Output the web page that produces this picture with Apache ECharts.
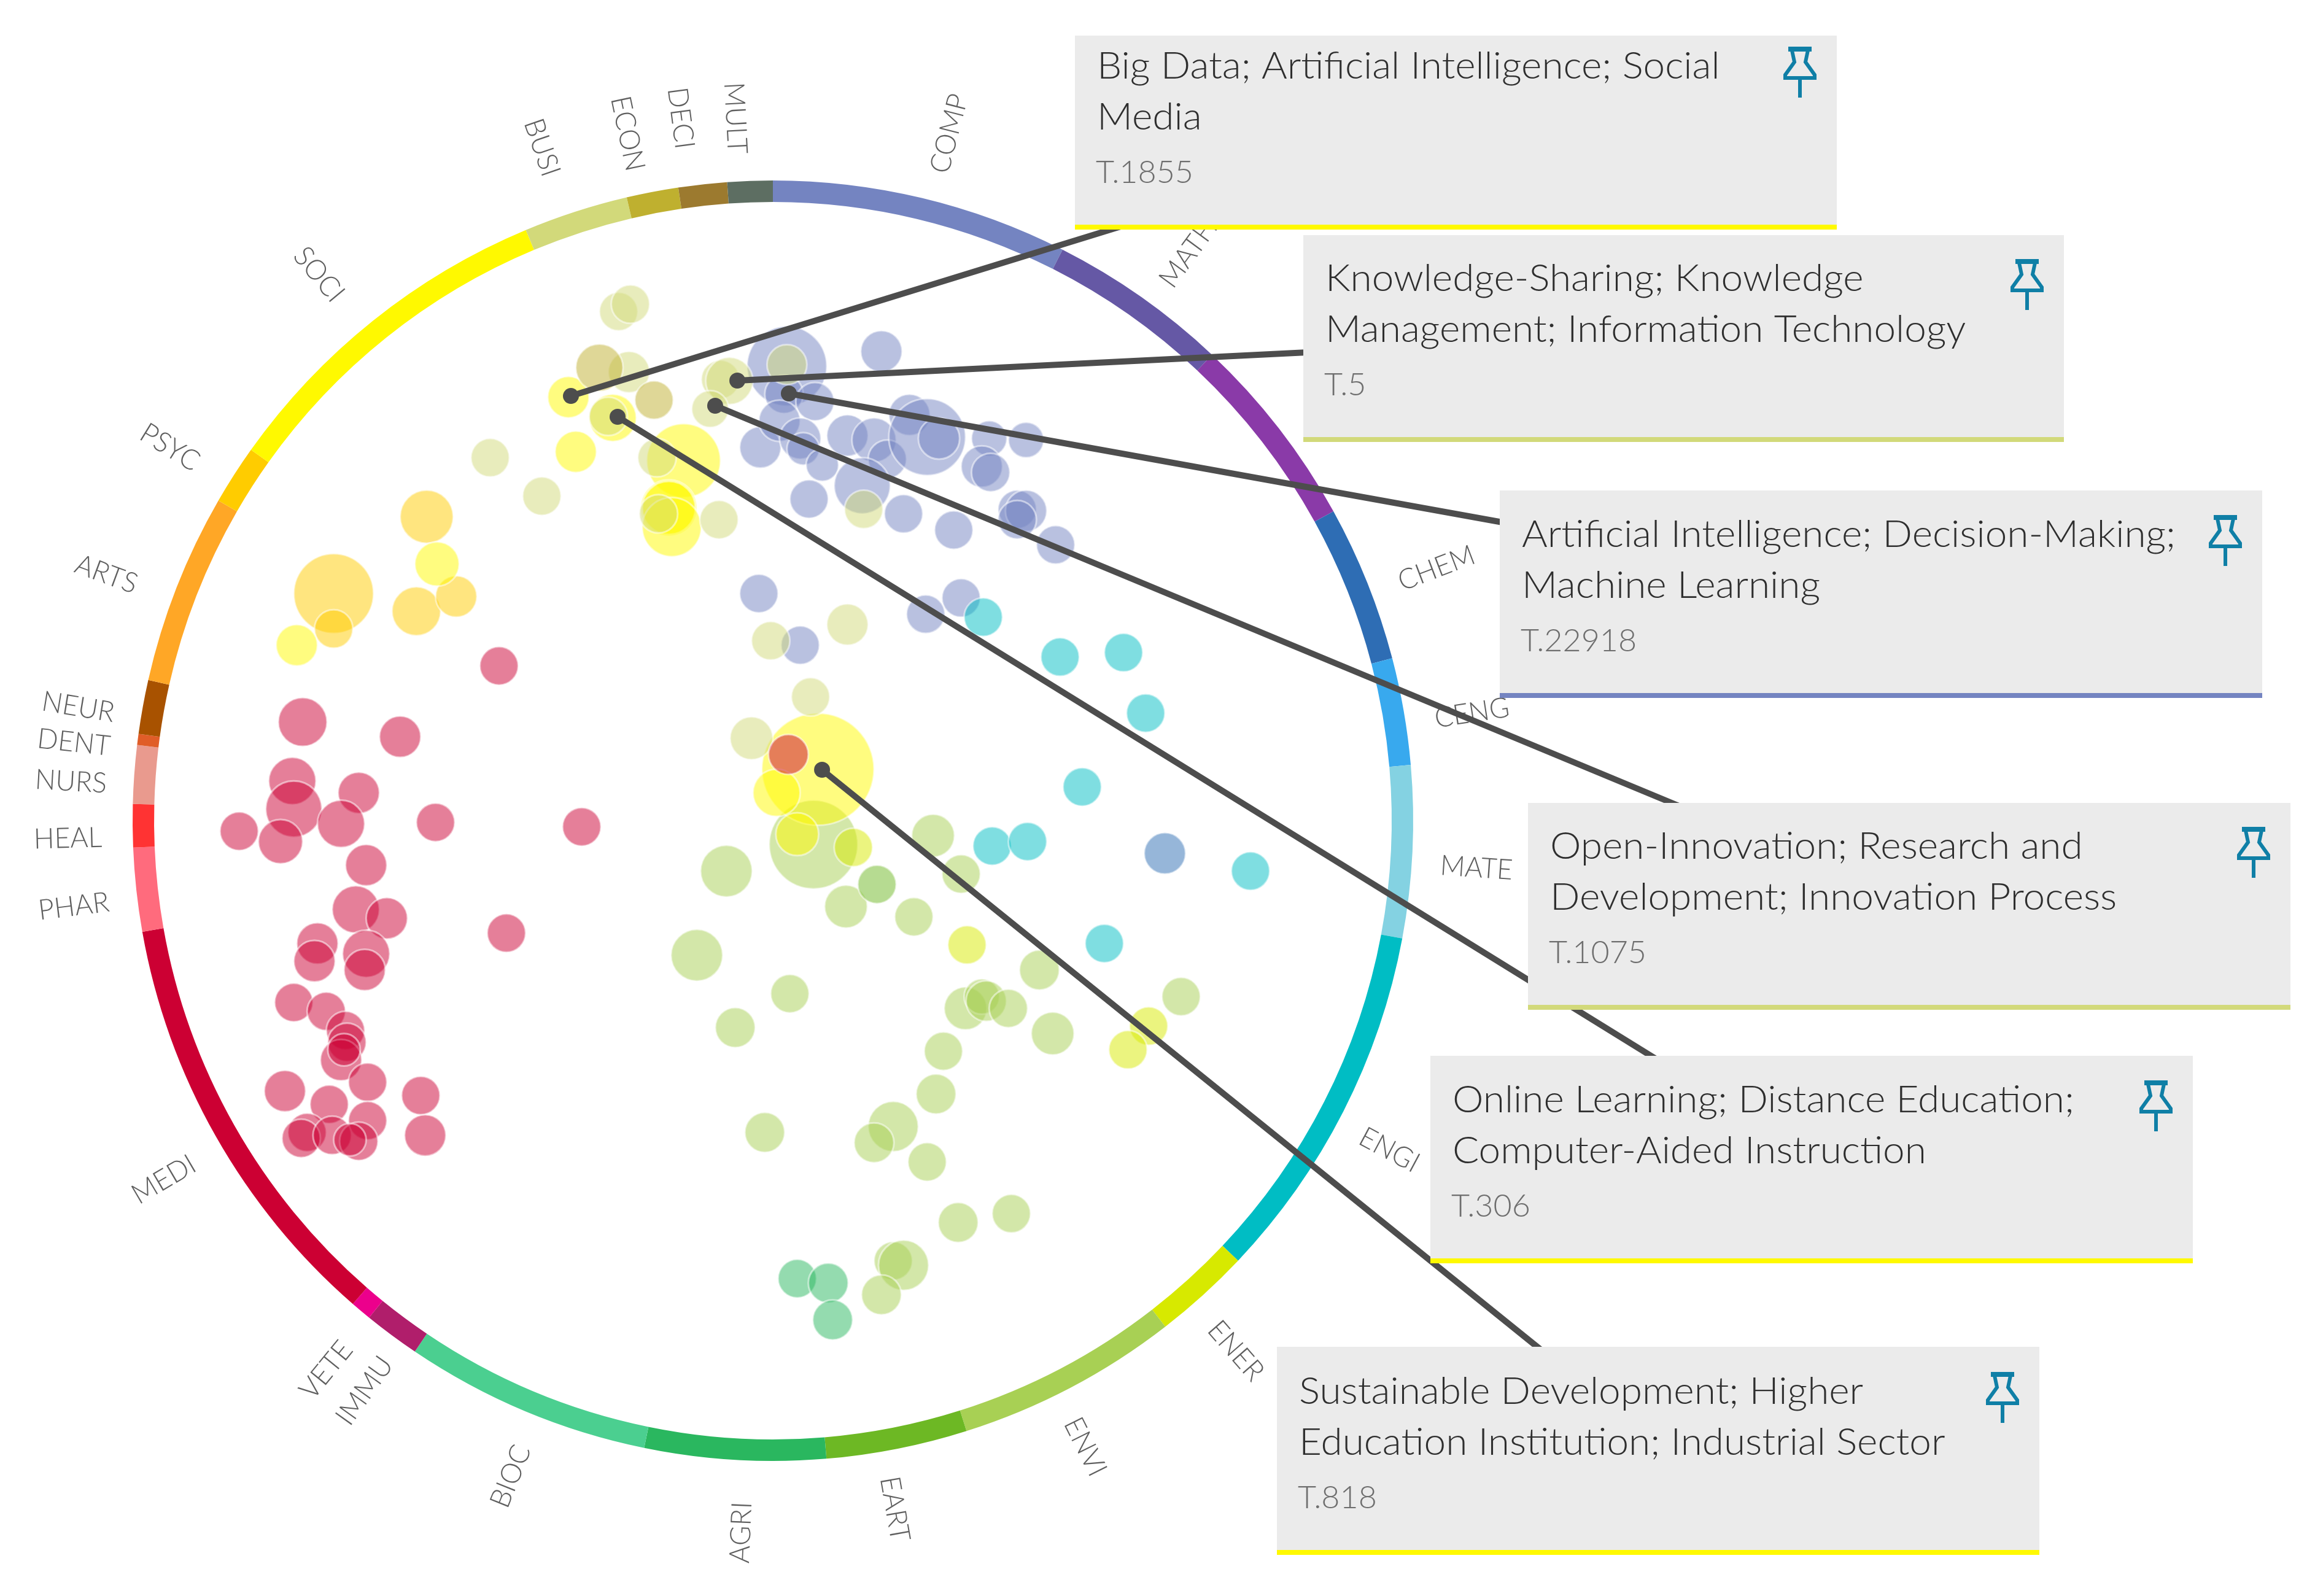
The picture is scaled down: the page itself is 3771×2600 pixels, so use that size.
<!DOCTYPE html>
<html>
<head>
<meta charset="utf-8">
<title>Topic wheel</title>
<style>html,body{margin:0;padding:0;background:#fff}#chart{width:3771px;height:2600px}</style>
<script src="https://cdn.jsdelivr.net/npm/echarts@6/dist/echarts.min.js"></script>
</head>
<body>
<div id="chart"></div>
<script>
// ---------- ring: subject areas and their arc shares (degrees) ----------
var ringFields = ['COMP','MATH','PHYS','CHEM','CENG','MATE','ENGI','ENER','ENVI','EART','AGRI','BIOC','IMMU','VETE','MEDI','PHAR','HEAL','NURS','DENT','NEUR','ARTS','PSYC','SOCI','BUSI','ECON','DECI','MULT'];
var ringShares = [26.9,16.4,17.8,14.2,9.7,15.6,32.8,8.8,20.2,12.8,16.4,22.4,5.1,1.9,39,7.6,3.9,5.3,1,4.9,17.3,5.4,31.9,9.5,4.7,4.4,4.1];

// ---------- topics: [x, y, radius] in map units ----------
var compTopics = [[533,248,27],[597,238,14],[531,267,13],[552,272,13],[515,303,14],[528,285,14],[542,297,14],[544,304,11],[557,315,11],[548,338,13],[574,295,14],[592,298,15],[601,311,13],[584,329,19],[616,281,14],[628,296,26],[636,297,14],[612,348,13],[646,359,13],[670,297,12],[695,298,12],[665,316,14],[671,320,13],[689,345,13],[695,346,14],[689,352,13],[715,369,13],[514,402,13],[651,405,13],[627,416,13],[542,437,13]];
var chemTopics = [[789,578,14]];
var engiTopics = [[666,418,13],[718,445,13],[761,442,13],[776,483,13],[733,533,13],[672,573,13],[696,570,13],[847,590,13],[748,639,13]];
var envTopics = [[551,572,30],[632,566,14.5],[651,592,13],[492,590,17.5],[573,614,14.5],[619,621,13],[472,647,17.5],[535,673,13],[704,657,13.5],[498,696,13.5],[654,683,14.5],[665,675,12],[668,678,13.7],[683,683,13],[713,700,14.5],[800,675,13],[639,712,13],[634,741,13.5],[605,763,17],[592,774,13.5],[628,787,13],[518,767,13.5],[649,828,13.5],[685,822,13],[605,854,13],[612,857,17],[597,877,13.5]];
var eartTopics = [[594,599,13]];
var agriTopics = [[540,866,13],[561,869,13.5],[564,894,13.5]];
var psycTopics = [[226,402,27],[226,426,13],[289,350,18],[282,414,16.5],[309,404,14]];
var sociTopics = [[463,312,25],[453,344,19],[453,344,18],[455,357,20],[385,269,14],[390,306,14],[415,283,16],[201,437,14],[296,382,15],[554,521,38],[526,537,16],[540,565,14.5]];
var enerTopics = [[578,574,13],[655,640,13],[778,695,13],[764,711,13]];
var busiTopics = [[533,247,13.5],[585,345,13],[488,257,13],[494,258,16],[481,277,12.5],[419,211,13],[427,206,13],[426,252,14],[412,282,13],[332,310,13],[367,336,13],[445,310,13],[446,348,13],[487,352,13],[574,423,14],[522,434,13],[549,472,13],[509,500,14.5]];
var econTopics = [[406,249,16],[443,271,13]];
var mediTopics = [[338,451,13],[205,489,16.5],[271,499,14],[198,529,16],[199,548,19],[243,537,14],[231,558,16],[162,563,13],[190,570,15],[295,557,13],[394,560,13],[248,586,14],[241,616,16],[262,622,14],[343,632,13],[215,639,14],[213,651,14],[248,646,16],[247,657,14],[199,679,13],[221,685,13],[234,698,13],[235,706,13],[231,718,14],[233,711,11],[249,733,13],[193,739,14],[285,742,13],[223,748,13],[249,759,13],[208,767,13],[204,771,13],[288,769,14],[225,769,13],[243,773,13],[237,772,11],[534,511,13.5]];

// ---------- ring labels, as printed around the ring ----------
var ringLabels = ['COMP','MATH','CHEM','CENG','MATE','ENGI','ENER','ENVI','EART','AGRI','BIOC','IMMU','VETE','MEDI','PHAR','HEAL','NURS','DENT','NEUR','ARTS','PSYC','SOCI','BUSI','ECON','DECI','MULT'];
var ringLabelX = [643,805,973,997,1000,941,837,735,606,502,346,247,221,111,50,46,48,50,53,72,115,216,367,425,461,498];
var ringLabelY = [90.5,171.5,385,483,588,779,915,980,1022,1038,1000,942,928,799,614,568,529.5,503,479,389,303,186,100,90.5,80,80];

// ---------- highlighted topics ----------
var calloutFirstLines = ['Big Data; Artificial Intelligence; Social','Knowledge-Sharing; Knowledge','Artificial Intelligence; Decision-Making;','Open-Innovation; Research and','Online Learning; Distance Education;','Sustainable Development; Higher'];
var calloutSecondLines = ['Media','Management; Information Technology','Machine Learning','Development; Innovation Process','Computer-Aided Instruction','Education Institution; Industrial Sector'];
var calloutIds = ['T.1855','T.5','T.22918','T.1075','T.306','T.818'];
var calloutFields = ['SOCI','BUSI','COMP','BUSI','SOCI','SOCI'];
var calloutTopicX = [386.7,499.4,534.3,484.4,418.3,556.8];
var calloutTopicY = [268.2,257.8,266.5,274.8,282.3,521.4];

// ---------- styling and layout ----------
var fieldColors = {COMP:'#7484c1',MATH:'#6558a5',PHYS:'#8a3aa8',CHEM:'#2e6db4',CENG:'#38a9ee',MATE:'#84d2e2',ENGI:'#00bdc4',ENER:'#d7e900',ENVI:'#a8d054',EART:'#6db824',AGRI:'#2ab75f',BIOC:'#4bcf90',IMMU:'#b01e6b',VETE:'#ec008c',MEDI:'#cc0033',PHAR:'#ff6b7d',HEAL:'#ff3333',NURS:'#e99a8e',DENT:'#e05d28',NEUR:'#a85200',ARTS:'#ffa726',PSYC:'#ffcc00',SOCI:'#fff900',BUSI:'#d2d97a',ECON:'#bfb02f',DECI:'#9c7a2f',MULT:'#5d6e62'};
var UNIT = 3771/1568;
var CX = 1259, CY = 1337;
var boxes = [[1751,58,2992,366],[2123,383,3362,712],[2443,799,3685,1129],[2489,1308,3731,1637],[2330,1720,3572,2050],[2080,2194,3322,2525]];
var leaderEnds = [[1900,346],[2150,573],[2470,855],[2740,1315],[2720,1739],[2530,2215]];
var FONT = 'Lato, "Open Sans", sans-serif';

function scatterSeries(name, data, field, z){
  return {type:'scatter', name:name, data:data, z:z, silent:true, animation:false,
    symbolSize:function(v){return v[2]*2*UNIT;},
    itemStyle:{color:fieldColors[field],opacity:0.5,borderColor:'#ffffff',borderWidth:3}};
}

var chart = echarts.init(document.getElementById('chart'), null, {renderer:'canvas'});

var series = [
 {type:'pie', name:'Subject areas', z:1, silent:true, animation:false, center:[CX,CY], radius:[1008,1043], startAngle:90, clockwise:true,
  avoidLabelOverlap:false, label:{show:false}, labelLine:{show:false},
  data:ringFields.map(function(f,i){return {name:f,value:ringShares[i],itemStyle:{color:fieldColors[f]}};})},
 {type:'custom', name:'Subject labels', coordinateSystem:'cartesian2d', z:2, silent:true, animation:false,
  data:ringLabelX.map(function(x,i){return [x,ringLabelY[i]];}),
  renderItem:function(p,api){
    var c=api.coord([api.value(0),api.value(1)]);
    var th=Math.atan2(c[0]-CX,CY-c[1])*180/Math.PI; if(th<0) th+=360;
    var rot=(th<180?90-th:270-th)*Math.PI/180;
    return {type:'text',x:c[0],y:c[1],rotation:rot,scaleX:0.97,
      style:{text:ringLabels[p.dataIndex],font:'300 46px '+FONT,fill:'#5f5f5f',align:'center',verticalAlign:'middle'}};
  }},
 scatterSeries('COMP',compTopics,'COMP',3),
 scatterSeries('CHEM',chemTopics,'CHEM',3),
 scatterSeries('ENGI',engiTopics,'ENGI',3),
 scatterSeries('ENVI',envTopics,'ENVI',3),
 scatterSeries('EART',eartTopics,'EART',3),
 scatterSeries('AGRI',agriTopics,'AGRI',3),
 scatterSeries('PSYC',psycTopics,'PSYC',3),
 scatterSeries('SOCI',sociTopics,'SOCI',3),
 scatterSeries('ENER',enerTopics,'ENER',3),
 scatterSeries('BUSI',busiTopics,'BUSI',3),
 scatterSeries('ECON',econTopics,'ECON',3),
 scatterSeries('MEDI',mediTopics,'MEDI',3),
 {type:'custom', name:'Leaders', coordinateSystem:'cartesian2d', z:4, silent:true, animation:false,
  data:calloutTopicX.map(function(x,i){return [x,calloutTopicY[i]];}),
  renderItem:function(p,api){
    var c=api.coord([api.value(0),api.value(1)]), e=leaderEnds[p.dataIndex];
    return {type:'group',children:[
      {type:'line',shape:{x1:c[0],y1:c[1],x2:e[0],y2:e[1]},style:{stroke:'#4d4d4d',lineWidth:10}},
      {type:'circle',shape:{cx:c[0],cy:c[1],r:13},style:{fill:'#4d4d4d'}}
    ]};
  }},
 {type:'custom', name:'Callouts', coordinateSystem:'none', z:5, silent:true, animation:false,
  data:calloutIds.map(function(t,i){return [i];}),
  renderItem:function(p){
    var i=p.dataIndex,b=boxes[i],L=b[0],T=b[1],R=b[2],B=b[3],px=R-60;
    var pin={stroke:'#0f7fa6',fill:'none',lineWidth:6};
    return {type:'group',children:[
      {type:'rect',shape:{x:L,y:T,width:R-L,height:B-T},style:{fill:'#ebebeb'}},
      {type:'rect',shape:{x:L,y:B,width:R-L,height:8},style:{fill:fieldColors[calloutFields[i]]}},
      {type:'text',x:L+36,y:B-289,scaleX:1.03,style:{text:calloutFirstLines[i],font:'300 62px '+FONT,fill:'#2e2e2e',align:'left',verticalAlign:'top'}},
      {type:'text',x:L+36,y:B-206,scaleX:1.03,style:{text:calloutSecondLines[i],font:'300 62px '+FONT,fill:'#2e2e2e',align:'left',verticalAlign:'top'}},
      {type:'text',x:L+34,y:B-111,scaleX:1.0,style:{text:calloutIds[i],font:'300 52px '+FONT,fill:'#6e6e6e',align:'left',verticalAlign:'top'}},
      {type:'group',x:px,y:B-289,children:[
        {type:'polyline',shape:{points:[[-19,3],[19,3]]},style:{stroke:'#0f7fa6',lineWidth:8,fill:'none'}},
        {type:'polyline',shape:{points:[[-13,5],[-9,24],[-24,45],[-24,50],[24,50],[24,45],[9,24],[13,5]]},style:pin},
        {type:'polyline',shape:{points:[[0,50],[0,82]]},style:pin}
      ]}
    ]};
  }}
];

chart.setOption({
  animation:false,
  backgroundColor:'#ffffff',
  grid:{left:0,right:0,top:0,bottom:0},
  xAxis:{type:'value',min:0,max:1568,show:false},
  yAxis:{type:'value',min:0,max:1081,inverse:true,show:false},
  series:series
});
</script>
</body>
</html>
